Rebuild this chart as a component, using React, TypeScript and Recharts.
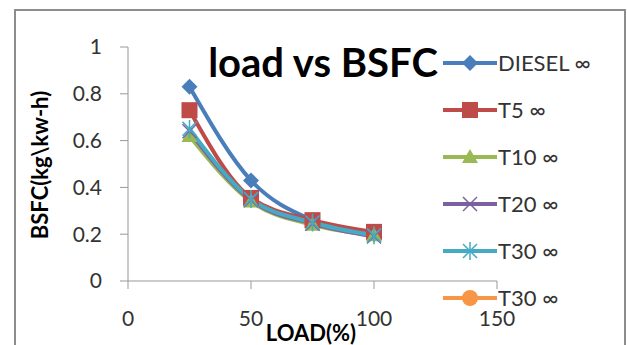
import React from "react";
import { LineChart, Line, XAxis, YAxis, Legend } from "recharts";

const loads = [25, 50, 75, 100];
const diesel = [0.83, 0.43, 0.26, 0.2];
const t5 = [0.73, 0.355, 0.26, 0.21];
const t10 = [0.62, 0.34, 0.24, 0.195];
const t20 = [0.64, 0.345, 0.245, 0.19];
const t30 = [0.65, 0.35, 0.25, 0.195];
const t30b: (number | null)[] = [null, null, null, null];

const xTicks = [0, 50, 100, 150];
const yTicks = [0, 0.2, 0.4, 0.6, 0.8, 1];

const series = [
  { key: "diesel", name: "DIESEL", values: diesel, color: "#4a7ebb", shape: "diamond" },
  { key: "t5", name: "T5", values: t5, color: "#be4b48", shape: "square" },
  { key: "t10", name: "T10", values: t10, color: "#98b954", shape: "triangle" },
  { key: "t20", name: "T20", values: t20, color: "#7d60a0", shape: "x" },
  { key: "t30", name: "T30", values: t30, color: "#46aac5", shape: "star" },
  { key: "t30b", name: "T30", values: t30b, color: "#f79646", shape: "circle" },
];

const data = loads.map((load, i) => {
  const row: Record<string, number | null> = { load };
  series.forEach((s) => (row[s.key] = s.values[i]));
  return row;
});

const FONT = "Lato, 'Open Sans', sans-serif";

function Marker({ shape, cx, cy, color }: { shape: string; cx: number; cy: number; color: string }) {
  switch (shape) {
    case "diamond":
      return <polygon points={`${cx},${cy - 8} ${cx + 8},${cy} ${cx},${cy + 8} ${cx - 8},${cy}`} fill={color} />;
    case "square":
      return <rect x={cx - 8} y={cy - 8} width={16} height={16} fill={color} />;
    case "triangle":
      return <polygon points={`${cx},${cy - 8} ${cx + 8},${cy + 6} ${cx - 8},${cy + 6}`} fill={color} />;
    case "x":
      return (
        <g stroke={color} strokeWidth={1.5}>
          <line x1={cx - 7} y1={cy - 7} x2={cx + 7} y2={cy + 7} />
          <line x1={cx - 7} y1={cy + 7} x2={cx + 7} y2={cy - 7} />
        </g>
      );
    case "star":
      return (
        <g stroke={color} strokeWidth={1.5}>
          <line x1={cx - 7} y1={cy - 7} x2={cx + 7} y2={cy + 7} />
          <line x1={cx - 7} y1={cy + 7} x2={cx + 7} y2={cy - 7} />
          <line x1={cx} y1={cy - 9} x2={cx} y2={cy + 9} />
        </g>
      );
    default:
      return <circle cx={cx} cy={cy} r={8} fill={color} />;
  }
}

// legend keeps the series order (payload order from recharts is not stable here)
function renderLegend() {
  return (
    <div style={{ fontFamily: FONT }}>
      {series.map((s, i) => (
        <div key={i} style={{ display: "flex", alignItems: "center", height: 47 }}>
          <svg width={54} height={20} style={{ flex: "none" }}>
            <line x1={0} y1={10} x2={54} y2={10} stroke={s.color} strokeWidth={4} />
            <Marker shape={s.shape} cx={27} cy={10} color={s.color} />
          </svg>
          <span style={{ fontSize: 22, color: "#333", marginLeft: 1 }}>
            {s.name} <span style={{ fontSize: 22 }}>∞</span>
          </span>
        </div>
      ))}
    </div>
  );
}

export default function App() {
  return (
    <div style={{ position: "absolute", left: 0, top: 0, width: 627, height: 345, background: "#fff", overflow: "hidden" }}>
      <div
        style={{
          position: "absolute",
          left: 14,
          top: 9,
          width: 608,
          height: 360,
          border: "2px solid #8c8c8c",
        }}
      />
      <LineChart
        width={627}
        height={345}
        data={data}
        margin={{ top: 47, right: 130, bottom: 4, left: 0 }}
      >
        <XAxis
          type="number"
          dataKey="load"
          domain={[0, 150]}
          ticks={xTicks}
          height={60}
          tickSize={8}
          tickMargin={22}
          stroke="#999"
          tick={{ fill: "#333", fontSize: 21, fontFamily: FONT }}
        />
        <YAxis
          type="number"
          domain={[0, 1]}
          ticks={yTicks}
          width={128}
          tickSize={8}
          tickMargin={18}
          stroke="#999"
          tick={{ fill: "#333", fontSize: 21, fontFamily: FONT }}
        />
        <Legend
          layout="horizontal"
          verticalAlign="middle"
          content={renderLegend}
          wrapperStyle={{ left: 443, top: 39, width: 184, height: 290 }}
        />
        {series.map((s) => (
          <Line
            key={s.key}
            type="monotone"
            dataKey={s.key}
            name={s.name}
            stroke={s.color}
            strokeWidth={4}
            isAnimationActive={false}
            dot={(p: any) =>
              p.cx == null || p.cy == null || p.value == null ? (
                <g key={p.key} />
              ) : (
                <Marker key={p.key} shape={s.shape} cx={p.cx} cy={p.cy} color={s.color} />
              )
            }
            activeDot={false}
          />
        ))}
      </LineChart>
      <div
        style={{
          position: "absolute",
          left: 205,
          top: 38,
          width: 236,
          textAlign: "center",
          fontFamily: FONT,
          fontWeight: 700,
          fontSize: 40,
          lineHeight: "48px",
          color: "#000",
          whiteSpace: "nowrap",
        }}
      >
        load vs BSFC
      </div>
      <div
        style={{
          position: "absolute",
          left: 39,
          top: 165,
          transform: "translate(-50%, -50%) rotate(-90deg)",
          fontFamily: FONT,
          fontWeight: 700,
          fontSize: 22,
          color: "#000",
          whiteSpace: "nowrap",
        }}
      >
        BSFC(kg\kw-h)
      </div>
      <div
        style={{
          position: "absolute",
          left: 311,
          top: 332,
          transform: "translate(-50%, -50%)",
          fontFamily: FONT,
          fontWeight: 700,
          fontSize: 22,
          color: "#000",
          whiteSpace: "nowrap",
        }}
      >
        LOAD(%)
      </div>
    </div>
  );
}
